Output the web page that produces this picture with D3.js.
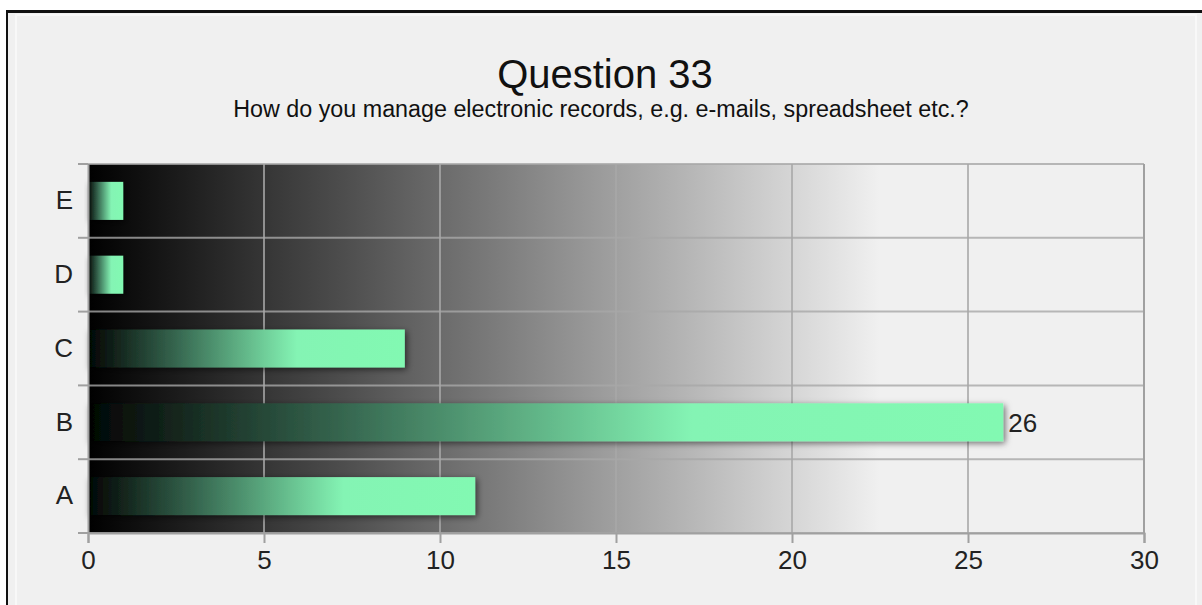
<!DOCTYPE html>
<html>
<head>
<meta charset="utf-8">
<script src="https://cdn.jsdelivr.net/npm/d3@7"></script>
<style>
  html, body { margin: 0; padding: 0; background: #ffffff; }
  svg { display: block; font-family: "Liberation Sans", Arial, sans-serif; }
</style>
</head>
<body>
<svg id="chart" width="1202" height="605"></svg>
<script>
// Survey answers, listed bottom to top
const categories = ["A", "B", "C", "D", "E"];
const counts = [11, 26, 9, 1, 1];
const labeledCategories = ["B"];
const xTicks = [0, 5, 10, 15, 20, 25, 30];
const titleText = "Question 33";
const subtitleText = "How do you manage electronic records, e.g. e-mails, spreadsheet etc.?";

const W = 1202, H = 605;
const plot = { left: 88, right: 1144, top: 164, bottom: 533 };

const svg = d3.select("#chart");
const defs = svg.append("defs");

// Panel background with framing lines
svg.append("rect").attr("x", 6).attr("y", 10).attr("width", W - 6).attr("height", H - 10)
  .attr("fill", "#f0f0f0");
svg.append("rect").attr("x", 16).attr("y", 15).attr("width", W - 22).attr("height", H - 8)
  .attr("fill", "none").attr("stroke", "#f8f8f8").attr("stroke-width", 2);
svg.append("line").attr("x1", 6).attr("x2", W).attr("y1", 11.5).attr("y2", 11.5)
  .attr("stroke", "#111").attr("stroke-width", 3);
svg.append("line").attr("x1", 7).attr("x2", 7).attr("y1", 10).attr("y2", H)
  .attr("stroke", "#111").attr("stroke-width", 2);

// Gradients
const bg = defs.append("linearGradient").attr("id", "plotBg")
  .attr("x1", "0%").attr("x2", "100%").attr("y1", "0%").attr("y2", "0%");
bg.append("stop").attr("offset", "0%").attr("stop-color", "#000000");
bg.append("stop").attr("offset", "75%").attr("stop-color", "#f0f0f0");
bg.append("stop").attr("offset", "100%").attr("stop-color", "#f0f0f0");

const barGrad = defs.append("linearGradient").attr("id", "barFill")
  .attr("x1", "0%").attr("x2", "100%").attr("y1", "0%").attr("y2", "0%");
barGrad.append("stop").attr("offset", "0%").attr("stop-color", "#020403");
barGrad.append("stop").attr("offset", "30%").attr("stop-color", "#3a6e55");
barGrad.append("stop").attr("offset", "66%").attr("stop-color", "#84f4b4");
barGrad.append("stop").attr("offset", "100%").attr("stop-color", "#82f9b2");

const shadow = defs.append("filter").attr("id", "barShadow")
  .attr("x", "-10%").attr("y", "-40%").attr("width", "130%").attr("height", "200%");
shadow.append("feDropShadow").attr("dx", 2).attr("dy", 2).attr("stdDeviation", 3)
  .attr("flood-color", "#000").attr("flood-opacity", 0.55);

const edgeShade = defs.append("linearGradient").attr("id", "edgeShade")
  .attr("x1", "0%").attr("x2", "100%").attr("y1", "0%").attr("y2", "0%");
edgeShade.append("stop").attr("offset", "0%").attr("stop-color", "#000").attr("stop-opacity", 0.35);
edgeShade.append("stop").attr("offset", "100%").attr("stop-color", "#000").attr("stop-opacity", 0);

// Scales
const x = d3.scaleLinear().domain([0, 30]).range([plot.left, plot.right]);
const y = d3.scaleBand().domain(categories).range([plot.bottom, plot.top]).paddingInner(0).paddingOuter(0);
const barH = 38;

// Titles
svg.append("text").attr("x", 605).attr("y", 88).attr("text-anchor", "middle")
  .attr("font-size", 40).attr("fill", "#111").text(titleText);
svg.append("text").attr("x", 601).attr("y", 117).attr("text-anchor", "middle")
  .attr("font-size", 23.3).attr("fill", "#111").text(subtitleText);

// Plot area
svg.append("rect").attr("x", plot.left).attr("y", plot.top)
  .attr("width", plot.right - plot.left).attr("height", plot.bottom - plot.top)
  .attr("fill", "url(#plotBg)");
svg.append("rect").attr("x", plot.left).attr("y", plot.top)
  .attr("width", 10).attr("height", plot.bottom - plot.top)
  .attr("fill", "url(#edgeShade)");

// Grid lines
const grid = svg.append("g");
grid.selectAll("line.v").data(xTicks.slice(1)).join("line").attr("class", "v")
  .attr("x1", d => x(d)).attr("x2", d => x(d))
  .attr("y1", plot.top).attr("y2", plot.bottom)
  .attr("stroke", "#a8a8a8").attr("stroke-opacity", 0.8).attr("stroke-width", 2);
const bandEdges = categories.map(c => y(c)).concat([plot.bottom]);
grid.selectAll("line.h").data(bandEdges).join("line").attr("class", "h")
  .attr("x1", plot.left).attr("x2", plot.right)
  .attr("y1", d => d).attr("y2", d => d)
  .attr("stroke", "#a8a8a8").attr("stroke-opacity", 0.8).attr("stroke-width", 2);

// Bars
const rows = categories.map((c, i) => ({ cat: c, value: counts[i] }));
svg.append("g").selectAll("rect").data(rows).join("rect")
  .attr("x", x(0))
  .attr("y", d => y(d.cat) + (y.bandwidth() - barH) / 2)
  .attr("width", d => x(d.value) - x(0))
  .attr("height", barH)
  .attr("fill", "url(#barFill)")
  .attr("filter", "url(#barShadow)");

// Value labels
svg.append("g").selectAll("text").data(rows.filter(d => labeledCategories.includes(d.cat))).join("text")
  .attr("x", d => x(d.value) + 5)
  .attr("y", d => y(d.cat) + y.bandwidth() / 2)
  .attr("dy", "0.36em")
  .attr("font-size", 26).attr("fill", "#222")
  .text(d => d.value);

// Axes
const xAxis = d3.axisBottom(x).tickValues(xTicks).tickSize(10).tickPadding(8).tickFormat(d3.format("d"));
const gx = svg.append("g").attr("transform", `translate(0,${plot.bottom})`).call(xAxis);
gx.select(".domain").attr("stroke", "#a0a0a0").attr("stroke-width", 2);
gx.selectAll(".tick line").attr("stroke", "#a0a0a0").attr("stroke-width", 2);
gx.selectAll(".tick text").attr("font-size", 26).attr("fill", "#222")
  .attr("font-family", "Liberation Sans, Arial, sans-serif");

const yAxis = d3.axisLeft(y).tickSize(0).tickPadding(15);
const gy = svg.append("g").attr("transform", `translate(${plot.left},0)`).call(yAxis);
gy.select(".domain").attr("stroke", "#a0a0a0").attr("stroke-width", 2);
gy.selectAll(".tick text").attr("font-size", 26).attr("fill", "#222")
  .attr("font-family", "Liberation Sans, Arial, sans-serif");
// Band-boundary ticks on the category axis
gy.selectAll("line.edge").data(bandEdges).join("line").attr("class", "edge")
  .attr("x1", -10).attr("x2", 0).attr("y1", d => d).attr("y2", d => d)
  .attr("stroke", "#a0a0a0").attr("stroke-width", 2);

// Right frame of the plot
svg.append("line").attr("x1", plot.right).attr("x2", plot.right)
  .attr("y1", plot.top).attr("y2", plot.bottom)
  .attr("stroke", "#a0a0a0").attr("stroke-width", 2);
</script>
</body>
</html>
